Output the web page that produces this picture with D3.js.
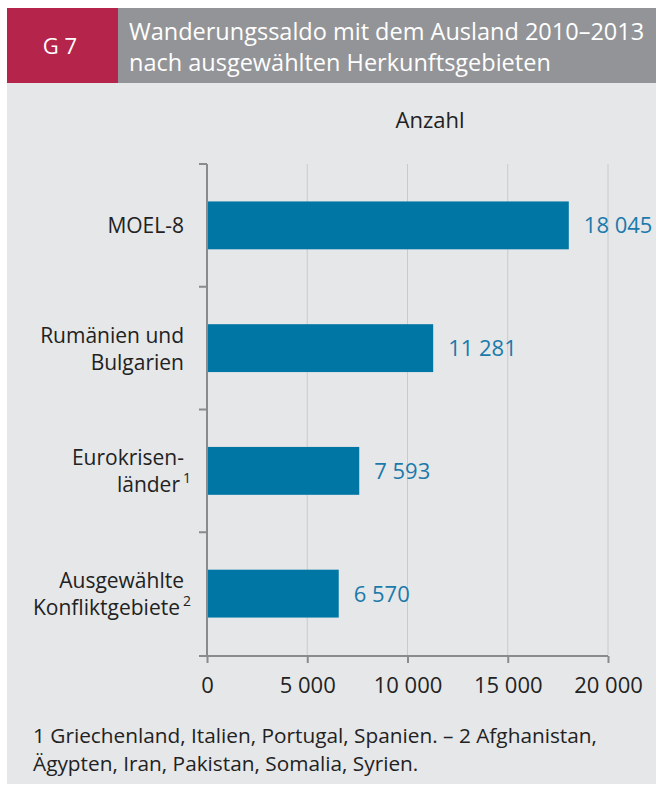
<!DOCTYPE html>
<html><head><meta charset="utf-8">
<script src="https://cdn.jsdelivr.net/npm/d3@7"></script>
<style>body{margin:0;background:#fff;}svg{display:block;font-family:"Open Sans",sans-serif;}</style>
</head><body>
<svg id="c" width="656" height="785"></svg>
<script>
const categories = [["MOEL-8"],["Rumänien und","Bulgarien"],["Eurokrisen-","länder"],["Ausgewählte","Konfliktgebiete"]];
const footRefs = ["", "", "1", "2"];
const values = [18045, 11281, 7593, 6570];
const xTicks = [0, 5000, 10000, 15000, 20000];
const titleLines = ["Wanderungssaldo mit dem Ausland 2010–2013","nach ausgewählten Herkunftsgebieten"];
const chartId = "G 7";
const unitLabel = "Anzahl";
const footnotes = ["1 Griechenland, Italien, Portugal, Spanien. – 2 Afghanistan,","Ägypten, Iran, Pakistan, Somalia, Syrien."];

const svg = d3.select("#c");
const loc = d3.formatLocale({decimal:",", thousands:" ", grouping:[3], currency:["","€"]});
const fmt = loc.format(",d");

// panels
svg.append("rect").attr("x",7).attr("y",8).attr("width",649).attr("height",776).attr("fill","#e6e7e9");
svg.append("rect").attr("x",7).attr("y",8).attr("width",111).attr("height",75).attr("fill","#b5244a");
svg.append("rect").attr("x",118).attr("y",8).attr("width",538).attr("height",75).attr("fill","#939497");
svg.append("text").attr("x",60).attr("y",54).attr("text-anchor","middle").attr("fill","#fff").attr("font-size",22).text(chartId);
svg.selectAll("text.title").data(titleLines).join("text").attr("class","title")
  .attr("x",129).attr("y",(d,i)=>40+i*31).attr("fill","#fff").attr("font-size",23.5).text(d=>d);

const x = d3.scaleLinear().domain([0,20000]).range([207,608]);
const y = d3.scaleBand().domain(d3.range(values.length)).range([164,655]).paddingInner(0.61).paddingOuter(0.305);

// gridlines
svg.append("g").selectAll("line").data(xTicks.slice(1)).join("line")
  .attr("x1",d=>x(d)).attr("x2",d=>x(d)).attr("y1",164).attr("y2",655)
  .attr("stroke","#c9cacc").attr("stroke-width",1);

svg.append("text").attr("x",430).attr("y",128).attr("text-anchor","middle").attr("fill","#222").attr("font-size",22).text(unitLabel);

// bars
svg.append("g").selectAll("rect").data(values).join("rect")
  .attr("x",x(0)).attr("y",(d,i)=>y(i)).attr("width",d=>x(d)-x(0)).attr("height",y.bandwidth())
  .attr("fill","#0076a5");
svg.append("g").selectAll("text").data(values).join("text")
  .attr("x",d=>x(d)+15).attr("y",(d,i)=>y(i)+y.bandwidth()/2+8)
  .attr("fill","#1a7aab").attr("font-size",22).text(d=>fmt(d));

// x axis
const xa = svg.append("g").attr("transform","translate(0,656)")
  .call(d3.axisBottom(x).tickValues(xTicks).tickFormat(fmt).tickSize(7).tickSizeOuter(0));
xa.select(".domain").attr("stroke","#8a8b8d").attr("stroke-width",2).attr("d","M199,0H608");
xa.selectAll(".tick line").attr("stroke","#8a8b8d").attr("stroke-width",2);
xa.selectAll(".tick text").attr("fill","#222").attr("font-size",22).attr("font-family","'Open Sans',sans-serif").attr("y",37).attr("dy",null);

// y axis
const ybound = d3.scaleLinear().domain([0,values.length]).range([164,655]);
const yg = svg.append("g");
yg.append("line").attr("x1",207).attr("x2",207).attr("y1",164).attr("y2",656).attr("stroke","#8a8b8d").attr("stroke-width",2);
yg.selectAll("line.t").data(d3.range(values.length)).join("line").attr("class","t")
  .attr("x1",199).attr("x2",207).attr("y1",d=>ybound(d)).attr("y2",d=>ybound(d))
  .attr("stroke","#8a8b8d").attr("stroke-width",2);

// category labels
categories.forEach((lines,i)=>{
  const cy = y(i)+y.bandwidth()/2;
  const lh = 27;
  const t0 = cy - (lines.length-1)*lh/2 + 8;
  lines.forEach((ln,j)=>{
    const t = svg.append("text").attr("x",184).attr("y",t0+j*lh).attr("text-anchor","end")
      .attr("fill","#222").attr("font-size",21);
    if (j===lines.length-1 && footRefs[i]) {
      t.attr("x",191);
      t.append("tspan").text(ln);
      t.append("tspan").attr("font-size",14).attr("dx",3).attr("dy",-9).text(footRefs[i]);
    } else t.text(ln);
  });
});

svg.selectAll("text.fn").data(footnotes).join("text").attr("class","fn")
  .attr("x",33).attr("y",(d,i)=>743+i*28).attr("fill","#222").attr("font-size",20.8).text(d=>d);
</script>
</body></html>
